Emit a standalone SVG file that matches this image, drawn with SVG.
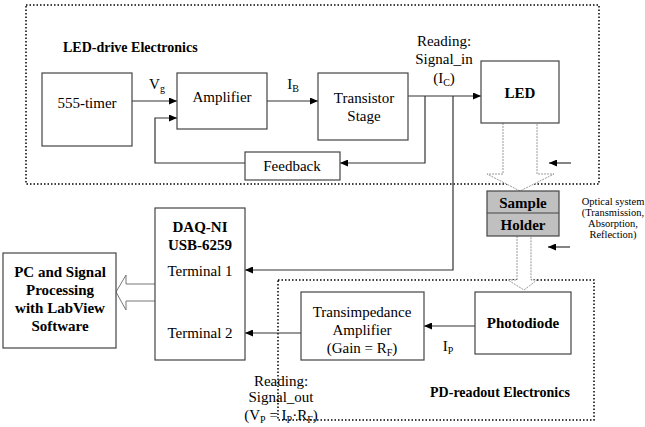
<svg xmlns="http://www.w3.org/2000/svg" width="645" height="427" viewBox="0 0 645 427" font-family="'Liberation Serif', 'DejaVu Serif', serif">
<defs>
<marker id="ah" viewBox="0 0 8 7" refX="8" refY="3.5" markerWidth="8" markerHeight="7" markerUnits="userSpaceOnUse" orient="auto">
<path d="M0,0 L8,3.5 L0,7 z" fill="#000"/>
</marker>
<style>
text{font-family:'Liberation Serif','DejaVu Serif',serif}
.t{font-size:15px;fill:#000;text-anchor:middle}
.b{font-weight:bold}
.s{font-size:10.5px}
.box{fill:#fff;stroke:#444;stroke-width:1.2}
.dot{fill:none;stroke:#000;stroke-width:1.5;stroke-dasharray:1.5,2}
.ln{fill:none;stroke:#333;stroke-width:1.2;marker-end:url(#ah)}
.hol{fill:#fff;stroke:#999;stroke-width:1;stroke-dasharray:2,1}
.hol2{fill:#fff;stroke:#777;stroke-width:1}
</style>
</defs>
<rect width="645" height="427" fill="#fff"/>
<g id="groups">
<rect class="dot" x="26" y="5" width="573" height="179"/>
<text class="t b" x="63" y="52" style="text-anchor:start;font-size:14px">LED-drive Electronics</text>
<rect class="dot" x="278" y="280" width="316" height="140"/>
<text class="t b" x="500" y="397" style="font-size:14px">PD-readout Electronics</text>
</g>
<g id="connectors">
<line class="ln" x1="132" y1="101" x2="177" y2="101"/>
<polyline class="ln" points="245,163 155,163 155,118 177,118"/>
<line class="ln" x1="267" y1="101" x2="318" y2="101"/>
<line class="ln" x1="408" y1="96" x2="481" y2="96"/>
<polyline class="ln" points="425,96 425,163 340,163"/>
<polyline class="ln" points="453,96 453,270 245,270"/>
<line class="ln" x1="571" y1="163" x2="549" y2="163"/>
<line class="ln" x1="570" y1="247" x2="548" y2="247"/>
<line class="ln" x1="475" y1="326" x2="424" y2="326"/>
<line class="ln" x1="301" y1="333" x2="245" y2="333"/>
<path class="hol" d="M503,123 L503,174 L487,174 L520,191 L554,174 L537,174 L537,123"/>
<path class="hol" d="M517,236 L517,280 L508,280 L524,290 L537,280 L531,280 L531,236"/>
<path class="hol2" d="M155,284 L126,284 L126,275 L116,292 L126,310 L126,301 L155,301"/>
</g>
<g id="labels">
<text class="t" x="157" y="89">V<tspan font-size="10" dy="3">g</tspan></text>
<text class="t" x="293" y="89">I<tspan font-size="10" dy="3">B</tspan></text>
<text class="t" x="444" y="46">Reading:</text>
<text class="t" x="444" y="64">Signal_in</text>
<text class="t" x="444" y="83">(I<tspan font-size="10" dy="3">C</tspan><tspan dy="-3">)</tspan></text>
<text class="t" x="448" y="351">I<tspan font-size="10" dy="3">P</tspan></text>
<text class="t" x="281" y="386">Reading:</text>
<text class="t" x="281" y="402">Signal_out</text>
<text class="t" x="281" y="420">(V<tspan font-size="10" dy="3">P</tspan><tspan dy="-3"> = I</tspan><tspan font-size="10" dy="3">P</tspan><tspan dy="-3">·R</tspan><tspan font-size="10" dy="3">F</tspan><tspan dy="-3">)</tspan></text>
<text class="t s" x="613" y="205">Optical system</text>
<text class="t s" x="613" y="216">(Transmission,</text>
<text class="t s" x="613" y="227">Absorption,</text>
<text class="t s" x="613" y="238">Reflection)</text>
</g>
<g id="timer">
<rect class="box" x="42" y="73" width="90" height="73"/>
<text class="t" x="87" y="108">555-timer</text>
</g>
<g id="amplifier">
<rect class="box" x="177" y="73" width="90" height="56"/>
<text class="t" x="222" y="102">Amplifier</text>
</g>
<g id="transistor">
<rect class="box" x="318" y="73" width="90" height="67"/>
<text class="t" x="364" y="103">Transistor</text>
<text class="t" x="364" y="121">Stage</text>
</g>
<g id="led">
<rect class="box" x="481" y="61" width="78" height="62"/>
<text class="t b" x="520" y="98">LED</text>
</g>
<g id="feedback">
<rect class="box" x="245" y="152" width="95" height="28"/>
<text class="t" x="292" y="171">Feedback</text>
</g>
<g id="sample">
<rect x="487" y="191" width="72" height="45" fill="#c0c0c0" stroke="#444" stroke-width="1.2"/>
<line x1="487" y1="213" x2="559" y2="213" stroke="#444" stroke-width="1.2"/>
<text class="t b" x="523" y="208">Sample</text>
<text class="t b" x="523" y="230">Holder</text>
</g>
<g id="photodiode">
<rect class="box" x="475" y="292" width="96" height="62"/>
<text class="t b" x="523" y="328">Photodiode</text>
</g>
<g id="tia">
<rect class="box" x="301" y="292" width="123" height="68"/>
<text class="t" x="362" y="317">Transimpedance</text>
<text class="t" x="362" y="335">Amplifier</text>
<text class="t" x="362" y="353">(Gain = R<tspan font-size="10" dy="3">F</tspan><tspan dy="-3">)</tspan></text>
</g>
<g id="daq">
<rect class="box" x="155" y="208" width="90" height="152"/>
<text class="t b" x="200" y="232">DAQ-NI</text>
<text class="t b" x="200" y="250">USB-6259</text>
<text class="t" x="200" y="276">Terminal 1</text>
<text class="t" x="200" y="338">Terminal 2</text>
</g>
<g id="pc">
<rect class="box" x="3" y="253" width="113" height="95"/>
<text class="t b" x="60" y="277">PC and Signal</text>
<text class="t b" x="60" y="295">Processing</text>
<text class="t b" x="60" y="313">with LabView</text>
<text class="t b" x="60" y="331">Software</text>
</g>
</svg>
